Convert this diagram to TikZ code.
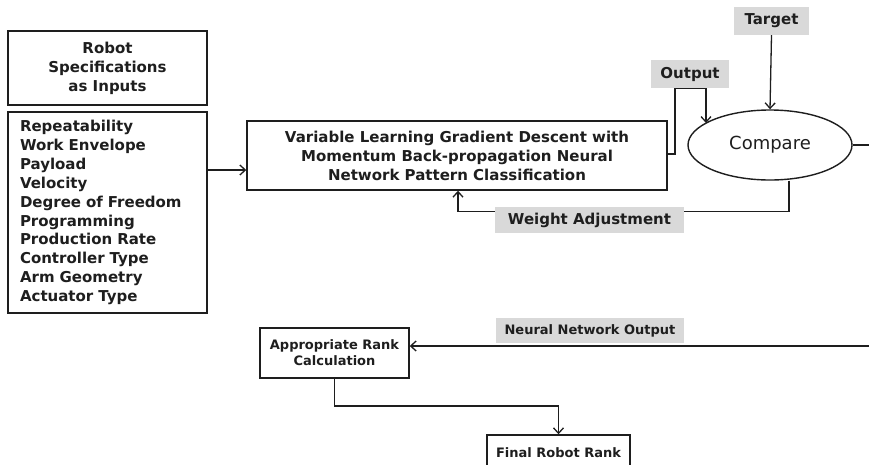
\documentclass[tikz,border=0pt]{standalone}
\usepackage{fontspec}
\setmainfont{DejaVu Sans}
\usetikzlibrary{shapes.geometric,arrows.meta}

\definecolor{ink}{HTML}{1E1E1E}
\definecolor{tagfill}{HTML}{D9D9D9}

\tikzset{
  box/.style={draw=ink, line width=1.4pt, fill=white, inner sep=0pt,
    text=ink, align=center, font=\bfseries\fontsize{15}{19}\selectfont},
  tag/.style={fill=tagfill, inner sep=0pt, text=ink,
    font=\bfseries\fontsize{15}{19}\selectfont},
  smalltext/.style={font=\bfseries\fontsize{13}{16}\selectfont},
  link/.style={draw=ink, line width=1.3pt},
  arr/.style={link, -{Straight Barb[length=5.5pt,width=10pt,line width=1.3pt]}}
}

\begin{document}
\begin{tikzpicture}[x=1pt,y=-1pt]
  \useasboundingbox (0,0) rectangle (869,464);

  % input blocks
  \node[box, minimum width=199pt, minimum height=74pt] (title) at (107.5,68)
    {Robot\\Specifications\\as Inputs};
  \node[box, minimum width=199pt, minimum height=201pt, align=left,
        text width=175pt, font=\bfseries\fontsize{15}{18.9}\selectfont] (list) at (107.5,212.5)
    {Repeatability\\Work Envelope\\Payload\\Velocity\\Degree of Freedom\\Programming\\Production Rate\\Controller Type\\Arm Geometry\\Actuator Type};

  % network block
  \node[box, minimum width=420pt, minimum height=69pt] (net) at (457,155.5)
    {Variable Learning Gradient Descent with\\Momentum Back-propagation Neural\\Network Pattern Classification};

  % comparison
  \node[ellipse, draw=ink, line width=1.4pt, minimum width=164pt, minimum height=70pt,
        inner sep=0pt, text=ink, font=\fontsize{18}{22}\selectfont] (cmp) at (770,145) {Compare};

  % rank blocks
  \node[box, smalltext, minimum width=149pt, minimum height=50pt] (rank) at (334.5,353)
    {Appropriate Rank\\Calculation};
  \node[box, smalltext, minimum width=143pt, minimum height=36pt] (final) at (558.5,453)
    {Final Robot Rank};

  % connectors
  \draw[arr] (list.east |- 0,170) -- (net.west |- 0,170);
  \draw[arr] (net.east |- 0,154) -- (675,154) -- (675,88) -- (706,88) -- (706,123);
  \draw[arr] ([xshift=19pt]cmp.south) -- ++(0,31) -| (net.south -| 458,0);
  \draw[arr] (cmp.east) -- (880,145) -- (880,346) -- (rank.east |- 0,346);
  \draw[arr] (rank.south) -- (rank.south |- 0,406) -| (final.north);

  % labels on the connectors
  \node[tag, minimum width=78pt, minimum height=28pt] (outlbl) at (690,74) {Output};
  \node[tag, minimum width=75pt, minimum height=28pt] (tgt) at (771.5,21) {Target};
  \node[tag, minimum width=189pt, minimum height=26pt] (wadj) at (589.5,220) {Weight Adjustment};
  \node[tag, smalltext, minimum width=188pt, minimum height=25pt] (nno) at (590,330.5) {Neural Network Output};

  \draw[arr] (tgt.south) -- (cmp.north);
\end{tikzpicture}
\end{document}
